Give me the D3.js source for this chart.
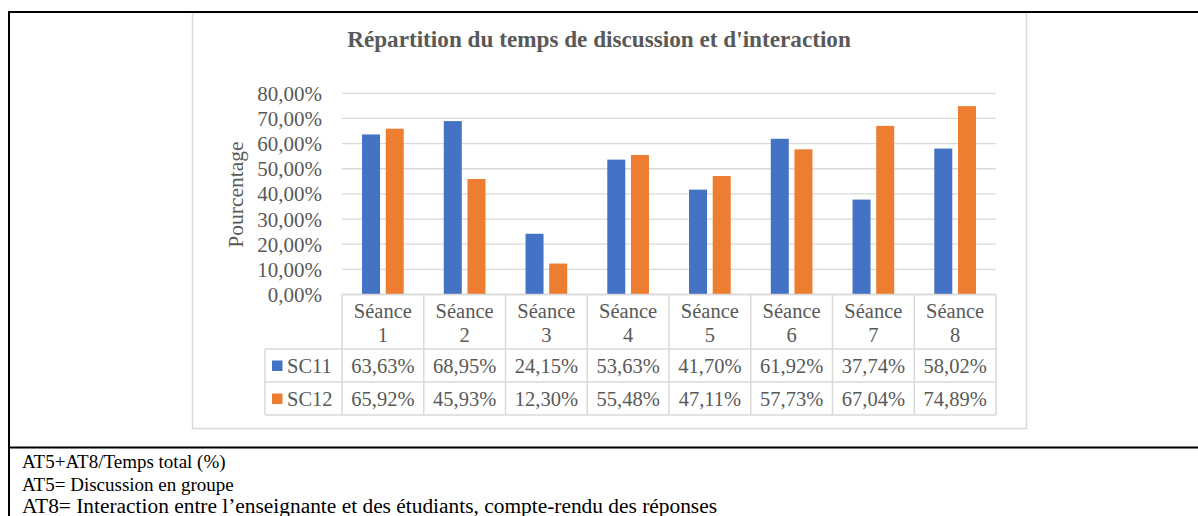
<!DOCTYPE html>
<html>
<head>
<meta charset="utf-8">
<script src="https://cdn.jsdelivr.net/npm/d3@7"></script>
<style>
  html, body { margin: 0; padding: 0; background: #fff; }
  svg { display: block; }
</style>
</head>
<body>
<script>
const categories = ['Séance 1', 'Séance 2', 'Séance 3', 'Séance 4', 'Séance 5', 'Séance 6', 'Séance 7', 'Séance 8'];
const seriesNames = ['SC11', 'SC12'];
const sc11 = [63.63, 68.95, 24.15, 53.63, 41.70, 61.92, 37.74, 58.02];
const sc12 = [65.92, 45.93, 12.30, 55.48, 47.11, 57.73, 67.04, 74.89];
const yTicks = [0, 10, 20, 30, 40, 50, 60, 70, 80];
const footnotes = [
  'AT5+AT8/Temps total (%)',
  'AT5= Discussion en groupe',
  'AT8= Interaction entre l\u2019enseignante et des étudiants, compte-rendu des réponses'
];

const W = 1198, H = 516;
const serif = '"Liberation Serif", "Times New Roman", serif';
const colors = { SC11: '#4472C4', SC12: '#ED7D31' };
const grey = '#595959';
const gridCol = '#d9d9d9';

const svg = d3.select('body').append('svg')
  .attr('width', W)
  .attr('height', H)
  .attr('font-family', serif);

// chart box (light border)
svg.append('rect')
  .attr('x', 192.5).attr('y', 12.5)
  .attr('width', 834).attr('height', 416)
  .attr('fill', '#fff')
  .attr('stroke', gridCol)
  .attr('stroke-width', 1.5);

// title
svg.append('text')
  .attr('x', 599).attr('y', 47)
  .attr('text-anchor', 'middle')
  .attr('font-size', 23.2).attr('font-weight', 'bold')
  .attr('fill', grey)
  .text('Répartition du temps de discussion et d\'interaction');

const plot = { left: 342, right: 996, top: 93.3, bottom: 294.5 };

const x0 = d3.scaleBand().domain(categories).range([plot.left, plot.right]);
const groupW = x0.bandwidth() * 0.51;
const x1 = d3.scaleBand().domain(seriesNames).range([0, groupW]).paddingInner(0.24);
const y = d3.scaleLinear().domain([0, 80]).range([plot.bottom, plot.top]);
const fmt = v => d3.format('.2f')(v).replace('.', ',') + '%';

// gridlines
svg.append('g')
  .selectAll('line')
  .data(yTicks)
  .join('line')
  .attr('x1', plot.left).attr('x2', plot.right)
  .attr('y1', d => y(d)).attr('y2', d => y(d))
  .attr('stroke', gridCol).attr('stroke-width', 1.3);

// y axis labels
const yAxis = svg.append('g')
  .attr('transform', `translate(${plot.left},0)`)
  .call(d3.axisLeft(y).tickValues(yTicks).tickSize(0).tickPadding(20).tickFormat(fmt));
yAxis.select('.domain').remove();
yAxis.attr('font-family', serif);
yAxis.selectAll('text')
  .attr('font-size', 21)
  .attr('fill', grey)
  .attr('dy', 7);

svg.append('text')
  .attr('transform', `translate(243,${194.5}) rotate(-90)`)
  .attr('text-anchor', 'middle')
  .attr('font-size', 21.5)
  .attr('fill', grey)
  .text('Pourcentage');

// bars
const rows = categories.map((c, i) => ({ cat: c, SC11: sc11[i], SC12: sc12[i] }));
svg.append('g')
  .selectAll('g')
  .data(rows)
  .join('g')
  .attr('transform', d => `translate(${x0(d.cat) + (x0.bandwidth() - groupW) / 2},0)`)
  .selectAll('rect')
  .data(d => seriesNames.map(s => ({ s, v: d[s] })))
  .join('rect')
  .attr('x', d => x1(d.s))
  .attr('width', x1.bandwidth())
  .attr('y', d => y(d.v))
  .attr('height', d => y(0) - y(d.v))
  .attr('fill', d => colors[d.s]);

// data table
const tbl = { legendLeft: 265, headTop: 294.5, headBottom: 349, rowH: 33 };
const tg = svg.append('g').attr('stroke', gridCol).attr('stroke-width', 1.5).attr('fill', 'none');
tg.append('line').attr('x1', plot.left).attr('x2', plot.right).attr('y1', tbl.headTop).attr('y2', tbl.headTop);
[0, 1, 2].forEach(k => {
  const yy = tbl.headBottom + k * tbl.rowH;
  tg.append('line').attr('x1', tbl.legendLeft).attr('x2', plot.right).attr('y1', yy).attr('y2', yy);
});
d3.range(categories.length + 1).forEach(i => {
  const xx = plot.left + i * x0.step();
  tg.append('line').attr('x1', xx).attr('x2', xx).attr('y1', tbl.headTop).attr('y2', tbl.headBottom + 2 * tbl.rowH);
});
tg.append('line').attr('x1', tbl.legendLeft).attr('x2', tbl.legendLeft)
  .attr('y1', tbl.headBottom).attr('y2', tbl.headBottom + 2 * tbl.rowH);

// header text
const head = svg.append('g').attr('font-size', 20.5).attr('fill', grey).attr('text-anchor', 'middle');
categories.forEach(c => {
  const [w, n] = c.split(' ');
  const cx = x0(c) + x0.bandwidth() / 2;
  head.append('text').attr('x', cx).attr('y', 318).text(w);
  head.append('text').attr('x', cx).attr('y', 342).text(n);
});

// value rows
[sc11, sc12].forEach((vals, r) => {
  const cy = tbl.headBottom + r * tbl.rowH + 24;
  vals.forEach((v, i) => {
    head.append('text')
      .attr('x', x0(categories[i]) + x0.bandwidth() / 2)
      .attr('y', cy)
      .text(fmt(v));
  });
  const name = seriesNames[r];
  svg.append('rect')
    .attr('x', 272).attr('y', cy - 12.5)
    .attr('width', 10.5).attr('height', 10.5)
    .attr('fill', colors[name]);
  svg.append('text')
    .attr('x', 287).attr('y', cy)
    .attr('font-size', 20.5).attr('fill', grey)
    .text(name);
});

// outer document table lines
const bg = svg.append('g').attr('stroke', '#000').attr('stroke-width', 2);
bg.append('line').attr('x1', 8).attr('x2', W).attr('y1', 12).attr('y2', 12);
bg.append('line').attr('x1', 8).attr('x2', W).attr('y1', 447.5).attr('y2', 447.5);
bg.append('line').attr('x1', 9).attr('x2', 9).attr('y1', 11).attr('y2', H);

// footnotes (last line is set wider in the source document)
const notes = svg.append('g')
  .selectAll('text')
  .data(footnotes)
  .join('text')
  .attr('x', 22)
  .attr('y', (d, i) => 468 + i * 22.5)
  .attr('font-size', (d, i) => i === footnotes.length - 1 ? 20 : 19)
  .attr('fill', '#000')
  .text(d => d);

notes.filter((d, i) => i === footnotes.length - 1)
  .attr('textLength', 695)
  .attr('lengthAdjust', 'spacingAndGlyphs');
</script>
</body>
</html>
